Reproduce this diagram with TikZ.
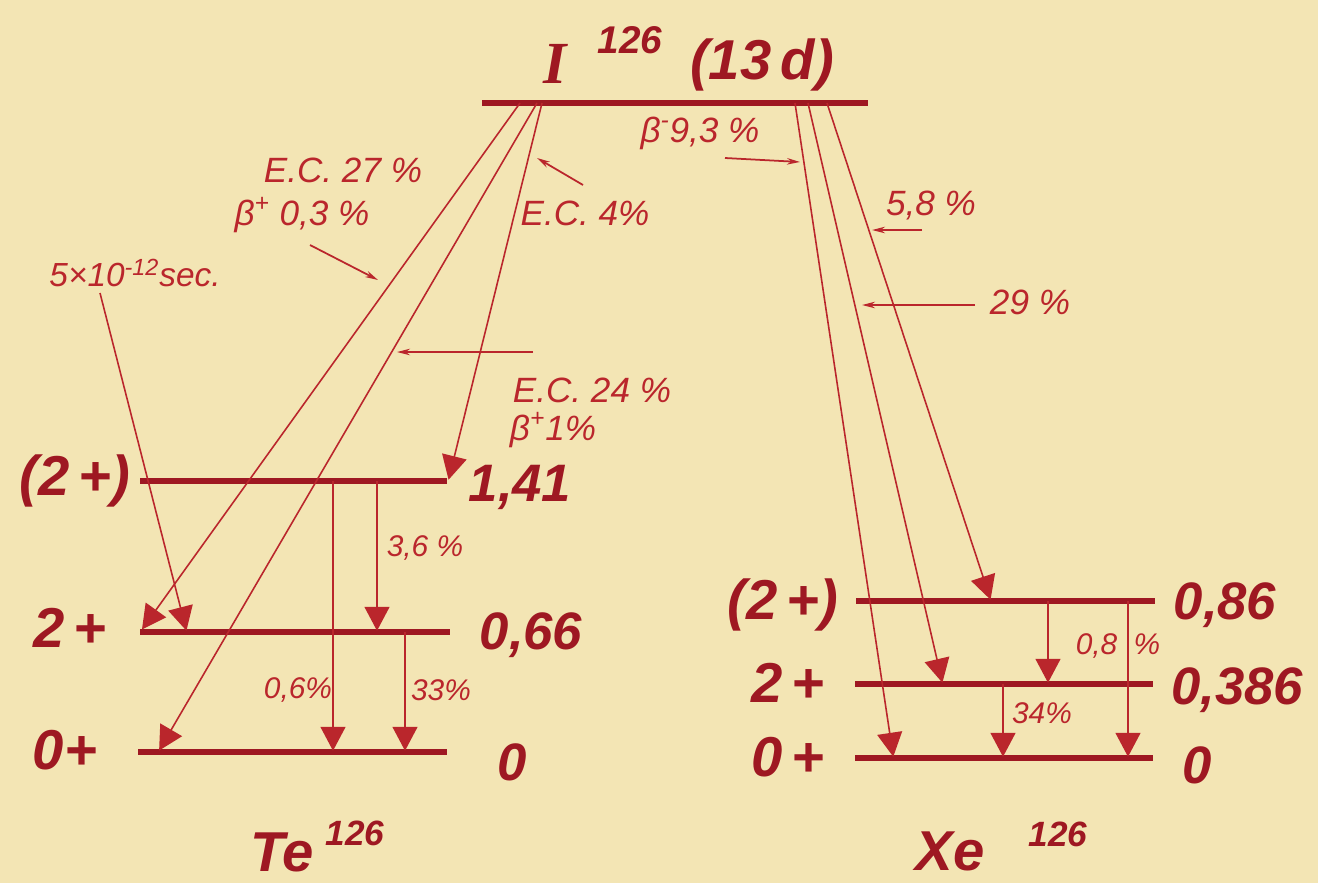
\documentclass[tikz,border=0pt]{standalone}
\usepackage{fontspec}
\setmainfont{Liberation Sans}
\newfontfamily\serifI{Liberation Serif}
\usetikzlibrary{arrows.meta}
\definecolor{paper}{RGB}{243,229,180}
\definecolor{ink}{RGB}{158,24,34}
\definecolor{inkl}{RGB}{186,38,44}
\begin{document}
\begin{tikzpicture}[x=0.02cm,y=-0.02cm,
  level/.style={line width=3.2pt, draw=ink, line cap=butt},
  trans/.style={line width=0.9pt, draw=inkl, -{Triangle[length=0.48cm,width=0.5cm]}, shorten >=-1pt},
  ptr/.style={line width=1pt, draw=inkl, -{Stealth[length=0.26cm,width=0.13cm]}},
  big/.style={text=ink, inner sep=0pt, font=\fontsize{32}{32}\selectfont\bfseries\itshape},
  val/.style={text=ink, inner sep=0pt, font=\fontsize{30}{30}\selectfont\bfseries\itshape},
  sup/.style={text=ink, inner sep=0pt, font=\fontsize{20}{20}\selectfont\bfseries\itshape},
  lab/.style={text=inkl, inner sep=0pt, font=\fontsize{20}{20}\selectfont\itshape},
  slab/.style={text=inkl, inner sep=0pt, font=\fontsize{17}{17}\selectfont\itshape}]
\fill[paper] (0,0) rectangle (1318,883);

% ---------- level end points ----------
\coordinate (IL) at (482,103); \coordinate (IR) at (868,103);
\coordinate (TaL) at (140,481); \coordinate (TaR) at (447,481);
\coordinate (TbL) at (140,632); \coordinate (TbR) at (450,632);
\coordinate (TcL) at (138,752); \coordinate (TcR) at (447,752);
\coordinate (XaL) at (856,601); \coordinate (XaR) at (1155,601);
\coordinate (XbL) at (855,684); \coordinate (XbR) at (1153,684);
\coordinate (XcL) at (855,758); \coordinate (XcR) at (1153,758);

\draw[level] (IL) -- (IR);
\draw[level] (TaL) -- (TaR);
\draw[level] (TbL) -- (TbR);
\draw[level] (TcL) -- (TcR);
\draw[level] (XaL) -- (XaR);
\draw[level] (XbL) -- (XbR);
\draw[level] (XcL) -- (XcR);

% ---------- transition end points ----------
\coordinate (s1) at (520,103); \coordinate (e1) at (143,628);
\coordinate (s2) at (537,103); \coordinate (e2) at (160,749);
\coordinate (s3) at (542,103); \coordinate (e3) at (449,478);
\coordinate (s4) at (795,103); \coordinate (e4) at (893,755);
\coordinate (s5) at (808,103); \coordinate (e5) at (942,681);
\coordinate (s6) at (827,103); \coordinate (e6) at (990,598);
\coordinate (secs) at (100,293); \coordinate (sece) at (186,629);

\draw[trans] (s1) -- (e1);
\draw[trans] (s2) -- (e2);
\draw[trans] (s3) -- (e3);
\draw[trans] (s4) -- (e4);
\draw[trans] (s5) -- (e5);
\draw[trans] (s6) -- (e6);
\draw[trans] (secs) -- (sece);

% gammas Te
\coordinate (g1s) at (333,481); \coordinate (g1e) at (333,749);
\coordinate (g2s) at (377,481); \coordinate (g2e) at (377,629);
\coordinate (g3s) at (405,632); \coordinate (g3e) at (405,749);
\draw[trans] (g1s) -- (g1e);
\draw[trans] (g2s) -- (g2e);
\draw[trans] (g3s) -- (g3e);
% gammas Xe
\coordinate (g4s) at (1048,601); \coordinate (g4e) at (1048,681);
\coordinate (g5s) at (1128,601); \coordinate (g5e) at (1128,755);
\coordinate (g6s) at (1003,684); \coordinate (g6e) at (1003,755);
\draw[trans] (g4s) -- (g4e);
\draw[trans] (g5s) -- (g5e);
\draw[trans] (g6s) -- (g6e);

% ---------- pointer arrows ----------
\coordinate (p1s) at (310,245); \coordinate (p1e) at (378,280);
\coordinate (p2s) at (583,185); \coordinate (p2e) at (537,158);
\coordinate (p3s) at (533,352); \coordinate (p3e) at (397,352);
\coordinate (p4s) at (725,158); \coordinate (p4e) at (800,162);
\coordinate (p5s) at (922,230); \coordinate (p5e) at (872,230);
\coordinate (p6s) at (975,305); \coordinate (p6e) at (862,305);
\draw[ptr] (p1s) -- (p1e);
\draw[ptr] (p2s) -- (p2e);
\draw[ptr] (p3s) -- (p3e);
\draw[ptr] (p4s) -- (p4e);
\draw[ptr] (p5s) -- (p5e);
\draw[ptr] (p6s) -- (p6e);

% ---------- title ----------
\node[big, font=\fontsize{34}{34}\selectfont\bfseries\itshape\serifI] (tI) at (555,64) {I};
\node[sup, font=\fontsize{22}{22}\selectfont\bfseries\itshape] (tI126) at (630,40) {126};
\node[big] (t13d) at (762,65) {(13\,d)};

% ---------- decay labels ----------
\node[lab] (lEC27) at (343,170) {E.C. 27 \%};
\node[lab] (lbp03) at (302,215) {β\textsuperscript{+} 0,3 \%};
\node[lab] (lEC4) at (585,213) {E.C. 4\%};
\node[lab] (lEC24) at (592,390) {E.C. 24 \%};
\node[lab] (lbp1) at (553,430) {β\textsuperscript{+}1\%};
\node[lab] (lbm) at (700,133) {β\textsuperscript{-}9,3 \%};
\node[lab] (l58) at (931,205) {5,8 \%};
\node[lab] (l29) at (1030,302) {29 \%};
\node[slab, font=\fontsize{19}{19}\selectfont\itshape] (lsec) at (135,273) {5\texttimes 10\textsuperscript{-12}sec.};
\node[slab] (l36) at (425,548) {3,6 \%};
\node[slab] (l06) at (298,690) {0,6\%};
\node[slab] (l33) at (441,690) {33\%};
\node[slab] (l08) at (1118,646) {0,8\hspace{0.55em}\%};
\node[slab] (l34) at (1042,713) {34\%};

% ---------- Te levels ----------
\node[big] (tTa) at (75,481) {(2\,+)};
\node[val] (vTa) at (520,487) {1,41};
\node[big] (tTb) at (70,628) {2\,+};
\node[val] (vTb) at (531,635) {0,66};
\node[big] (tTc) at (65,750) {0+};
\node[val] (vTc) at (512,762) {0};
\node[big] (tTe) at (282,852) {Te};
\node[sup] (tTe126) at (355,833) {126};

% ---------- Xe levels ----------
\node[big] (xTa) at (783,605) {(2\,+)};
\node[val] (vXa) at (1225,605) {0,86};
\node[big] (xTb) at (788,683) {2\,+};
\node[val] (vXb) at (1237,690) {0,386};
\node[big] (xTc) at (788,757) {0\,+};
\node[val] (vXc) at (1197,765) {0};
\node[big] (xXe) at (950,851) {Xe};
\node[sup] (xXe126) at (1058,834) {126};
\end{tikzpicture}
\end{document}
